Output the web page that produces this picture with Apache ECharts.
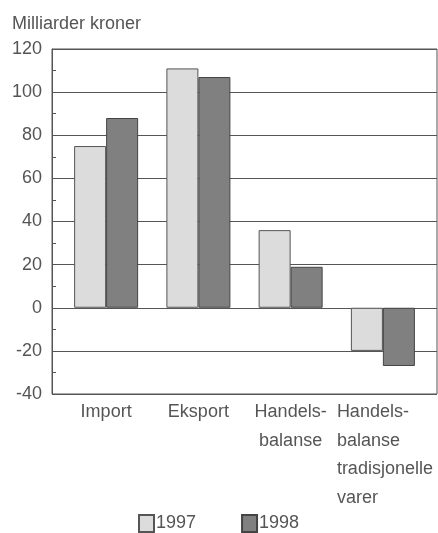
<!DOCTYPE html>
<html>
<head>
<meta charset="utf-8">
<script src="https://cdn.jsdelivr.net/npm/echarts@6/dist/echarts.min.js"></script>
<style>
  html, body { margin: 0; padding: 0; background: #fff; }
  #chart { width: 438px; height: 533px; }
</style>
</head>
<body>
<div id="chart"></div>
<script>
var categories = ['Import', 'Eksport', 'Handels-\nbalanse', 'Handels-\nbalanse\ntradisjonelle\nvarer'];
var years = ['1997', '1998'];
var values1997 = [75, 111, 36, -20];
var values1998 = [88, 107, 19, -27];

var FONT = 'Liberation Sans';
var TXT = '#555';

var myChart = echarts.init(document.getElementById('chart'));
var option = {
  animation: false,
  title: {
    text: 'Milliarder kroner',
    left: 7,
    top: 10,
    textStyle: { fontFamily: FONT, fontSize: 18, fontWeight: 'normal', color: TXT }
  },
  legend: {
    data: years,
    left: 138,
    top: 514,
    padding: 0,
    icon: 'rect',
    itemWidth: 15,
    itemHeight: 17,
    itemGap: 45,
    textStyle: { fontFamily: FONT, fontSize: 18, color: TXT, padding: [0, 0, 0, -3] }
  },
  grid: [
    { left: 52, right: 1, top: 49, bottom: 139, show: true, borderColor: '#555', borderWidth: 1 },
    { left: 60, right: 9, top: 49, bottom: 139 }
  ],
  xAxis: [
    {
      type: 'category', gridIndex: 0, data: categories,
      axisLine: { show: false }, axisTick: { show: false }, axisLabel: { show: false }
    },
    {
      type: 'category', gridIndex: 1, data: categories,
      axisLine: { show: false }, axisTick: { show: false },
      axisLabel: {
        interval: 0,
        margin: 4,
        fontFamily: FONT,
        fontSize: 18,
        color: TXT,
        lineHeight: 28.5,
        formatter: function (v, i) {
          if (i === 3) {
            return v.split('\n').map(function (s) { return '{l|' + s + '}'; }).join('\n');
          }
          return v;
        },
        rich: {
          l: { width: 92, align: 'left', fontFamily: FONT, fontSize: 18, color: TXT, lineHeight: 28.5 }
        }
      }
    }
  ],
  yAxis: [
    {
      type: 'value', gridIndex: 0, min: -40, max: 120, interval: 20,
      axisLine: { show: true, lineStyle: { color: '#555' } },
      axisTick: { show: false },
      minorTick: { show: true, splitNumber: 2, length: -4, lineStyle: { color: '#555' } },
      splitLine: { show: true, lineStyle: { color: '#555', width: 1 } },
      axisLabel: { margin: 10, fontFamily: FONT, fontSize: 18, color: TXT }
    },
    {
      type: 'value', gridIndex: 1, min: -40, max: 120, interval: 20,
      axisLine: { show: false }, axisTick: { show: false },
      axisLabel: { show: false }, splitLine: { show: false }
    }
  ],
  series: [
    {
      name: '1997', type: 'bar', xAxisIndex: 1, yAxisIndex: 1,
      data: values1997, barWidth: 32, barGap: '0%',
      itemStyle: { color: '#dcdcdc', borderColor: '#555', borderWidth: 1 }
    },
    {
      name: '1998', type: 'bar', xAxisIndex: 1, yAxisIndex: 1,
      data: values1998, barWidth: 32, barGap: '0%',
      itemStyle: { color: '#808080', borderColor: '#444', borderWidth: 1 }
    }
  ]
};
option && myChart.setOption(option);
</script>
</body>
</html>
